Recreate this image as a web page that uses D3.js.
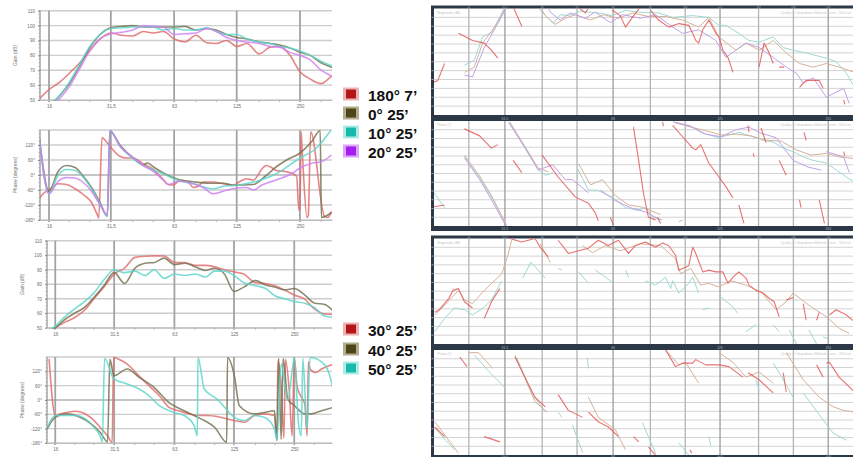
<!DOCTYPE html>
<html>
<head>
<meta charset="utf-8">
<script src="https://cdn.jsdelivr.net/npm/d3@7"></script>
<style>
  body { margin: 0; background: #fff; }
  svg { display: block; font-family: "Liberation Sans", Arial, sans-serif; }
</style>
</head>
<body>
<script>
// ---------- shared axes / labels ----------
const FREQS = [14, 16, 18, 20, 22.4, 25, 28, 31.5, 35.5, 40, 45, 50, 56, 63, 71, 80, 90, 100, 112, 125, 140, 160, 180, 200, 224, 250, 280, 315, 355, 400];
const FREQ_LABELS = [16, 31.5, 63, 125, 250];
const FREQ_MINOR = [20, 25, 40, 50, 80, 100, 160, 200, 315];
const GAIN_TICKS = [50, 60, 70, 80, 90, 100, 110];
const PHASE_TICKS = [-180, -120, -60, 0, 60, 120];
const GRID_3RD = [25, 31.5, 40, 50, 63, 80, 100, 125, 160, 200, 250];
const LEGEND_A = ['180° 7’', '0° 25’', '10° 25’', '20° 25’'];
const LEGEND_B = ['30° 25’', '40° 25’', '50° 25’'];

// ---------- left, top group: gain (dB) on FREQS ----------
const gainA180 = [49, 57, 62, 68, 75, 83, 91, 95, 93.5, 93, 96, 95, 96, 91, 89, 93.5, 88.5, 88, 90, 86, 88, 81, 85.5, 86, 80, 69, 64, 61, 66, 68];
const gainA0   = [40, 46, 53, 61, 73, 85, 94, 98.5, 99.5, 100, 99, 99, 99, 99, 99.5, 97, 98, 97, 94, 92, 91, 89, 88, 87, 85, 82, 80, 75, 72, 70];
const gainA10  = [40, 46, 53, 62, 74, 86, 94, 98, 98.5, 99, 99.5, 99, 97, 98, 97, 97, 98.5, 96, 94, 94, 91, 89, 88, 86, 85, 83, 80, 76, 73, 71];
const gainA20  = [38, 44, 51, 59, 71, 83, 91, 94.5, 95.5, 97, 100, 99.5, 99, 94, 94.5, 95, 98, 96, 92, 90, 89, 88, 86, 85.5, 82, 80, 77, 70, 66, 64];

// ---------- left, top group: phase [Hz, degrees] ----------
const phaseA180 = [[14.4,-95],[15,-75],[16,-60],[17.7,-35],[19.4,-38],[21.3,-55],[23.3,-78],[25.5,-110],[27.2,-160],[27.6,-172],[28.6,150],[29.5,140],[31.2,115],[34.8,75],[37.4,68],[40.3,68],[44.9,45],[50.1,22],[55.9,-18],[59,-38],[62.4,-40],[66,-25],[69.6,-22],[74,-30],[77.7,-50],[82,-45],[86.6,-28],[96.7,-28],[107.8,-35],[120,-42],[130,-25],[139,-15],[150,-20],[155,-10],[165,25],[173,38],[183,30],[193,18],[216,13],[241,-5],[247,-140],[250,-140],[253,173],[256,100],[270,-170],[274,-160],[281,173],[327,-165],[340,-170],[353,-145]];
const phaseA0 = [[14.4,150],[16,-65],[17.7,15],[19.4,38],[21.3,30],[23.3,-5],[25.5,-50],[28,-110],[30.3,-165],[31.2,175],[34.8,120],[40.3,67],[44.9,40],[47,48],[50.1,33],[55.9,8],[66,-18],[77.7,-27],[92,-33],[107.8,-33],[120,-40],[150,-38],[170,-7],[193,33],[216,60],[249,87],[284,133],[312,178],[316,-170],[353,-150]];
const phaseA10 = [[14.4,145],[16,-75],[17.7,0],[19.4,22],[21.3,18],[23.3,-10],[25.5,-55],[28,-115],[30.3,-165],[31.2,178],[34.8,115],[40.3,65],[44.9,38],[50.1,20],[55.9,5],[66,-22],[77.7,-35],[96.7,-55],[107.8,-45],[120,-42],[155,-25],[193,5],[249,67],[299,107],[350,178]];
const phaseA20 = [[14.4,140],[16,-75],[17.7,-25],[19.4,-10],[21.3,-12],[23.3,-30],[25.5,-65],[28,-120],[30.3,-160],[31.2,178],[34.8,115],[40.3,70],[44.9,38],[50.1,15],[55.9,-20],[59,-38],[66,-25],[77.7,-35],[86.6,-50],[96.7,-75],[107.8,-65],[120,-55],[139,-50],[150,-60],[165,-40],[193,-20],[230,7],[249,27],[284,47],[316,53],[353,80]];

// ---------- left, bottom group ----------
const gainB30 = [45, 50, 54, 57, 62, 70, 78, 87, 91, 98.5, 99.3, 99.5, 99.5, 95, 95, 93, 93, 92, 90, 88.5, 87, 81, 80.5, 79, 76, 72.5, 70, 63, 59.5, 59];
const gainB40 = [46, 50, 56, 60, 64, 71, 79, 88, 80.5, 91, 94.5, 95, 98, 93.5, 94.5, 92, 89.5, 91, 87, 75, 78, 82.5, 79.5, 78, 76, 77, 73, 67, 66, 60];
const gainB50 = [47, 51, 58, 63, 68, 74, 83, 90, 88, 89, 86, 90, 84, 87, 86, 87, 85, 89, 89, 86, 81, 79, 77, 72, 70, 68, 67, 64, 58, 57];

const phaseB30 = [[14.9,172],[16,-65],[17,-58],[20.3,-47],[24,-73],[26.8,-114],[29.2,-150],[30.8,-177],[31.3,178],[34.2,165],[36.6,150],[42,100],[47,60],[53,18],[59,-30],[66,-45],[75,-58],[82.2,-65],[92,-65],[107,-72],[125.5,-86],[141,-93],[158,-65],[177,-58],[199,-65],[205,-165],[207,165],[215,60],[222,-160],[226,170],[236,40],[244,-150],[250,175],[258,60],[268,20],[282,-15],[290,-150],[294,160],[300,130],[320,115],[342,130],[391,150]];
const phaseB40 = [[14.6,-120],[16,-72],[18.2,-58],[22.9,-86],[26.8,-135],[29.2,-175],[30,170],[31.4,102],[36.6,130],[42,95],[49.8,53],[59,-10],[70.5,-45],[79,-65],[89,-86],[100,-114],[115,-177],[116,178],[125.5,102],[133,-24],[158,-58],[177,-52],[199,-45],[205,-170],[209,175],[215,-165],[220,175],[232,4],[251,-24],[282,-58],[304,-58],[342,-45],[391,-31]];
const phaseB50 = [[14.6,-114],[16,-65],[20.3,-65],[25,-114],[26.8,-150],[27.5,-175],[28.2,175],[31.4,88],[36.6,67],[42,46],[47,18],[53,-24],[62.8,-52],[70.5,-65],[79,-107],[82,-150],[82.6,178],[88.8,46],[103,4],[125.5,-72],[141,-86],[158,-65],[177,-72],[199,-120],[205,-165],[215,150],[232,0],[251,178],[262,-90],[271,-150],[276,175],[290,-120],[300,178],[342,160],[370,120],[391,46]];

// ---------- right screenshots: [Hz, grid units], null = gap ----------
const magTopTeal = [[24.3,5.6],[25.9,6.2],[27.3,8.8],[28.9,9.3],[30.9,11.5],[31.9,12.8],null,[38.5,12.4],[39.5,11.8],[43,10.3],[44.9,11.3],[47.3,11.2],[51.1,11.7],[57.3,11.5],[62.7,11.2],[68.2,11.8],[73.8,11.6],[84.3,11.5],[92.3,11],[104.9,11.2],[116.3,11],[124.1,10.1],[129.8,10.1],[141,9.2],[150.5,8.4],[160.5,8.2],[175.7,8.8],[187.4,7.6],[199.6,7.3],[217,7],[247,6.4],[263,6],[281,4.7],[296,3.1]];
const magTopTan = [[24.3,4.8],[25.9,5.4],[27.3,8.1],[29.5,9.9],[31.1,11.5],[32.1,12.7],null,[39,12.6],[40.8,11.2],[43.5,10.2],[46.4,10.9],[49.5,11.3],[54.5,10.7],[59.2,11.3],[65.2,10.9],[71.3,11.5],[79,11.1],[88.2,11.1],[98.4,10.7],[109,9.9],[116.3,11],[124.1,8.8],[138.4,7.3],[147.6,8.1],[160.5,7.3],[175.7,8.4],[191,7],[208,5.8],[227,5.4],[247,5.8],[268,5.4],[296,4.8]];
const magTopPurple = [[24.3,4.5],[25.6,4.3],[27.6,7.6],[30.1,10.3],[31.5,11.8],[32.1,12.7],null,[40.8,12.6],[42.1,11.6],[44.9,10.7],[47.9,11.5],[52.7,10.9],[56.2,11.6],[61.9,10.4],[66.9,11.3],[75.1,10.9],[82.7,11.3],[92.3,9.9],[98.4,9.2],[109,9.6],[121.7,8.4],[129.8,6.5],[138.4,7.3],[147.6,8.1],[160.5,7.6],[175.7,6.5],[191,5.4],[204,4.7],[213,3.6],[227,4.2],[247,2],[276,3],[286,1.3]];
const magTopRed = [[20,3.7],[20.5,3.9],[21.4,5.8],null,[23.4,9.2],[25.6,8.4],[27.6,8.1],[28.9,7.3],[30.1,6.4],null,[33.2,12.2],[35.1,10],null,[49.5,12.4],[52.7,11.5],[54.5,12.4],null,[62.7,11.8],[66,11.2],[68.2,9.9],[71.3,11],[75.1,12.2],null,[80.1,11.8],[84.3,10.7],[90,9.9],[96,10.3],[102.3,10.1],[104.9,9.2],[107,8.4],[109,8.1],[111.9,9.6],[116.3,10.7],[121.7,9.2],[124.1,8.8],[127.3,7.3],[131.5,6.5],[135.8,4.8],null,[160.5,5.4],[165.8,8.1],[171.2,7],[175.7,5.8],null,[182.6,5.4],[188.5,5.4],null,[208,3.1],[217,3.9],[236,3.9],[242,3],null,[276,1.7],[278,1.2]];

const phsTopRed = [[24.3,11.1],[26.8,10.3],[28.9,8.9],[30.1,9.3],null,[33.2,7.5],[35.1,6.1],null,[40,8.1],[44.3,5.6],[49.5,3.3],[53.8,2.6],[56.2,1.5],[57.3,0.6],null,[61.9,1],[63.1,0.1],null,[71.8,11.3],[74.2,7.5],[76.5,3.8],[79,1],[82.7,0.7],null,[83.7,1],[85.4,0.3],null,[86.5,11.9],[87,11.4],null,[92.3,11.5],[98.4,10.2],[104.9,8.9],[107,8.7],[110.5,9.3],[116.3,7.2],[124.1,5.6],[129.8,4.5],[135.8,3.2],null,[141,2.4],[145.7,0.3],null,[149.6,11.5],[150.5,10.7],null,[154.5,8.3],[155.5,7.9],null,[162.6,11.2],[167.9,9.5],null,[182.6,7.5],[191,5.8],null,[208,3],[210,2.1],null,[214,10.7],[217,9.8],null,[236,3],[244,0.3],null,[276,8.5],[278,8],null,[20,2.2],[21.4,2.4]];
const phsTopTeal = [[20,3.8],[21.4,2.1],null,[24.3,7.9],[26.8,5.5],[28.9,3.3],[31.9,0.1],null,[32.3,11.9],[35.8,8.9],[39,6.4],[40.8,5.8],[42.8,6.1],null,[50.1,6.6],[53.8,4.1],[56.9,4.1],[62.7,3.3],[68.2,2.1],[73.8,1.8],[77.5,2.1],[81.1,1],[86.5,0.7],null,[92.3,11.9],[102.3,11.5],[111.9,10.6],[124.1,10.1],[132.3,10.4],[141,10.7],[154.5,10.2],[164.7,9.8],[175.7,9.6],[187.4,8.9],[199.6,8.5],[213,7.9],[227,7.5],[247,7.2],[263,6.4],[281,5.6],[296,5]];
const phsTopTan = [[24.3,8.1],[26.8,5.7],[28.9,3.5],[31.7,0.2],null,[32.5,11.9],[35.8,9.1],[39,6.6],[41.6,6.2],null,[50.5,7.1],[54.5,4.7],[58.9,5.3],[63.9,3.5],[69.5,2.4],[75.1,2.2],[85.4,1.3],null,[96,0.5],[98.4,0.7],null,[94,11.8],[103.6,11.3],[114.1,10.9],[125.7,10.4],[138.4,10.5],[152.5,10.3],[167.9,9.8],[185,9.7],[204,8.7],[224,8.1],[247,8.3],[268,7.9],[296,7.7]];
const phsTopPurple = [[24.3,7.8],[26.8,5.3],[28.9,3],[31.7,0],null,[32.3,11.8],[35.8,9],[39,6.4],[42.8,7],[46.4,5.3],[48.6,5.3],[53.8,3.8],null,[58.1,4.1],[63.9,2.9],[70.4,2.1],[77.5,1.6],[85.4,0.7],null,[92.9,11.9],[103.6,11.4],[114.1,10.5],[125.7,10.2],[138.4,11],[150.5,11.3],[162.6,10.6],[179.1,10.1],[199.6,7.5],[221,6.7],[239,6.4],null,[247,8.5],[276,7.9],[286,6.1]];

const magBotRed = [[20.1,3.6],[20.7,3.9],[22,5.2],[22.6,6.1],[23.4,6.3],[24.3,4.8],[25.6,4.1],null,[27.6,2.9],[28.9,4.8],[30.5,6.3],null,[32.5,12],[35.1,11.6],[38.2,12],[39.5,11],[41.6,9.9],null,[44.3,11.8],[47.3,10.3],[50.5,10.6],[53.8,10.9],[57.3,11.8],[61.1,11.2],[65.2,11.8],[69.5,10.3],[72.7,11.2],[77.5,11.6],[82.7,11],[86.5,11.5],[89.9,11.2],[94,10.1],[95.9,8.4],[102.3,8.9],[104.9,11],[107,10.3],[111.9,8.2],[116.3,8.4],[121.7,8.2],[127.3,8.2],[131.5,6.9],[135.8,7.6],[141,8.2],[147.6,7.5],[150.5,6.7],[157.4,6.1],[164.7,5.8],[171.2,5.2],[176.8,4.8],[182.6,3.1],null,[191,5],[199.6,5.3],null,[213,4.6],[217,2.7],null,[232,2.7],[236,3.6],null,[252,3.3],[263,3.9],[281,3.3],[296,2.5]];
const magBotTan = [[20.1,3.3],[21.4,4.4],[23.4,6.1],[24.3,5],[25.6,4.6],[27.6,6.1],[30.9,8],[32.1,10.1],[32.9,11.8],null,[39.5,11.4],[42.1,9.3],null,[51.8,11.2],[55.2,10.4],[60,11.2],[66,10.6],[75.1,11.4],[85.4,11.2],[94,9.7],[97.1,8],[103.6,8.6],[110.5,6.7],[116.3,6.9],[124.1,6.5],[134,7.2],[147.6,6.7],[162.6,5.9],[179.1,3.9],[191,4.8],[199.6,5.8],[221,4.4],[247,3.1],[268,1.8],[286,1.2]];
const magBotTeal = [[20.1,1.4],[21.4,2.9],[22.8,4.1],[24.3,3.9],[25.6,3.3],[27.4,4.1],[28.9,5],[30.9,7.2],null,[35.3,7.5],[37.2,9.3],[39,8.4],[40.8,7.5],null,[44.3,8.6],[45.4,8.4],null,[50.5,8.2],[53.8,6.9],null,[56.2,8.4],[60,7.6],[62.7,7],null,[68.2,8.4],[69.5,7.6],null,[77.5,7.2],[82.7,6.7],[88.2,7.6],[91.1,6.3],[92.3,7.2],[96,5.8],[102.3,6.9],[104.9,7.6],[109,5.8],null,[111.9,3.9],[116.3,4.1],null,[124.1,5.5],[132.3,4.6],[135.8,4.2],[140,3.5],null,[147.6,1.4],[157.4,2.2],null,[175.7,2.2],[182.6,1.4],null,[195,1.6],[204,0],null,[221,1.6],[232,0],null,[242,0.8],[252,0.5]];

const phsBotRed = [[20.1,3.2],[21.4,2.1],null,[23.6,11.2],[24.7,10.1],null,[27.6,2.1],[30.5,1.5],null,[33.6,11.2],[35.8,8.9],[38.2,6.6],[40.8,5.5],null,[44.3,6.9],[47.3,5.1],[51.8,4.3],null,[53.8,4.9],[57.3,3.8],[61.1,3.2],[65.2,2.1],null,[71.8,2.1],[74.2,1.5],null,[79,0.9],[82.7,0],null,[103,0.6],[104.3,0.2],null,[88.2,12],[94,10.1],[98.4,10.5],[104.9,10.5],[107,10.9],[114.1,10.3],[124.1,10.3],[132.3,10.1],[138.4,9.5],[144.8,8.9],null,[149.6,9.4],[160.5,8.6],[175.7,7.1],null,[187.4,9.4],[191,7.2],null,[232,10.3],[242,8.9],null,[247,10.5],[252,10.6],[268,8.9],[296,7.2]];
const phsBotTan = [[20.1,3.8],[23.4,0.2],null,[24.9,11.7],[26.6,11.7],[29.1,9.9],null,[33.6,11.4],[38.2,6.1],[41.3,4.9],null,[53.8,6.6],[57.3,4.3],[63.9,2.9],[68.2,0.6],null,[88.2,12],[96,10.3],[100.3,10.6],[109,8.2],null,[124.1,11.7],[135.8,10.6],[147.6,8.9],[160.5,9.5],[175.7,8.2],null,[191,11.7],[213,8.6],[236,6.6],[258,5.5],[276,5.1],[296,4.9]];
const phsBotTeal = [[20.1,3.1],[22.8,0.6],null,[25.9,11.4],[28.5,9.5],[31.5,7.7],null,[34,11.1],[37.6,6.9],[40.8,4.9],null,[44.3,4.9],[45.4,4.3],null,[48.6,3.4],[51.8,0.3],null,[53.4,11.1],[53.8,9.9],null,[76,3.7],[82.7,0.2],null,[96,1.4],[102.3,0],null,[116.3,2.1],[117.8,1.1],null,[157.4,8.6],[160.5,7.4],null,[175.7,10.5],[182.6,9.4],[199.6,6.6],null,[213,7.1],[236,4.6],[258,2.5],[281,1.7]];

// ---------- colours ----------
const C_RED = '#e06a6a', C_OLIVE = '#75704f', C_TEAL = '#5dd5ca', C_PURPLE = '#d07ef3';
const R_RED = '#e55858', R_TAN = '#d6b29a', R_TEAL = '#9ed9d0', R_PURPLE = '#c4a0e6';
const SW_A = [['#b51519', '#ebb2b2'], ['#4b4519', '#b3ad8f'], ['#19b8ad', '#b0ebe5'], ['#a41ef0', '#dea4f8']];
const SW_B = [['#b51519', '#ebb2b2'], ['#4b4519', '#b3ad8f'], ['#19b8ad', '#b0ebe5']];

const svg = d3.select('body').append('svg').attr('width', 853).attr('height', 457);
let clipN = 0;

function pairs(arr) {
    return FREQS.map(function (f, i) { return [f, arr[i]]; });
}

// ---------- left panels ----------
function drawLeft(box, xDom, yDom, grid, labels, fmt, title, isPhase, series) {
    const x = d3.scaleLog().domain(xDom).range([box.l, box.r]);
    const y = d3.scaleLinear().domain(yDom).range([box.b, box.t]);
    const g = svg.append('g');
    const id = 'clip' + (clipN++);
    g.append('clipPath').attr('id', id).append('rect')
        .attr('x', box.l).attr('y', box.t - 1)
        .attr('width', box.r - box.l).attr('height', box.b - box.t + 2);

    // horizontal grid
    g.selectAll(null).data(grid).enter().append('line')
        .attr('x1', box.l).attr('x2', box.r)
        .attr('y1', function (d) { return y(d); }).attr('y2', function (d) { return y(d); })
        .attr('stroke', function (d) { return isPhase && d === 0 ? '#8c8c8c' : '#cdcdcd'; })
        .attr('stroke-width', function (d) { return isPhase && d === 0 ? 1.2 : 1.4; });

    // vertical grid at labelled frequencies
    g.selectAll(null).data(FREQ_LABELS).enter().append('line')
        .attr('x1', function (d) { return x(d); }).attr('x2', function (d) { return x(d); })
        .attr('y1', box.t).attr('y2', box.b + 2)
        .attr('stroke', '#a3a3a3').attr('stroke-width', 1.8);

    // minor ticks on the bottom
    g.selectAll(null).data(FREQ_MINOR.filter(function (f) { return f > xDom[0] && f < xDom[1]; })).enter().append('line')
        .attr('x1', function (d) { return x(d); }).attr('x2', function (d) { return x(d); })
        .attr('y1', box.b).attr('y2', box.b + 2)
        .attr('stroke', '#999').attr('stroke-width', 0.8);

    // left axis
    const ay = g.append('g').attr('transform', 'translate(' + box.l + ',0)')
        .call(d3.axisLeft(y).tickValues(labels).tickSize(2).tickPadding(3).tickFormat(fmt));
    ay.select('.domain').attr('stroke', '#7a7a7a').attr('d', 'M0,' + box.t + 'V' + box.b);
    ay.selectAll('line').attr('stroke', '#888');
    ay.selectAll('text').attr('font-size', 4.6).attr('fill', '#6e6e6e');

    // minor ticks on the left
    const minor = d3.range(yDom[0], yDom[1] + 0.01, (yDom[1] - yDom[0]) / 24);
    g.selectAll(null).data(minor).enter().append('line')
        .attr('x1', box.l - 1.5).attr('x2', box.l)
        .attr('y1', function (d) { return y(d); }).attr('y2', function (d) { return y(d); })
        .attr('stroke', '#999').attr('stroke-width', 0.6);

    // bottom labels
    const ax = g.append('g').attr('transform', 'translate(0,' + box.b + ')')
        .call(d3.axisBottom(x).tickValues(FREQ_LABELS).tickSize(0).tickPadding(5).tickFormat(function (d) { return d; }));
    ax.select('.domain').attr('stroke', '#bdbdbd');
    ax.selectAll('text').attr('font-size', 4.6).attr('fill', '#6e6e6e');

    g.append('text')
        .attr('transform', 'translate(' + (box.l - 23) + ',' + ((box.t + box.b) / 2) + ') rotate(-90)')
        .attr('text-anchor', 'middle').attr('font-size', 5).attr('fill', '#777')
        .text(title);

    const line = d3.line()
        .x(function (d) { return x(d[0]); })
        .y(function (d) { return y(d[1]); })
        .curve(d3.curveMonotoneX);

    g.append('g').attr('clip-path', 'url(#' + id + ')')
        .selectAll('path').data(series).enter().append('path')
        .attr('d', function (s) { return line(s.data); })
        .attr('fill', 'none')
        .attr('stroke', function (s) { return s.color; })
        .attr('stroke-width', 1.6)
        .attr('stroke-opacity', 0.82)
        .attr('stroke-linejoin', 'round');
}

const gainFmt = function (d) { return d; };
const phaseFmt = function (d) { return d + '°'; };

drawLeft({ l: 40, r: 332, t: 10.7, b: 100 }, [14.5, 355], [50, 110], GAIN_TICKS, GAIN_TICKS, gainFmt, 'Gain (dB)', false, [
    { data: pairs(gainA180), color: C_RED },
    { data: pairs(gainA0), color: C_OLIVE },
    { data: pairs(gainA10), color: C_TEAL },
    { data: pairs(gainA20), color: C_PURPLE }
]);
drawLeft({ l: 40, r: 332, t: 130, b: 220 }, [14.5, 355], [-180, 180], PHASE_TICKS.concat([180]), PHASE_TICKS, phaseFmt, 'Phase (degrees)', true, [
    { data: phaseA180, color: C_RED },
    { data: phaseA0, color: C_OLIVE },
    { data: phaseA10, color: C_TEAL },
    { data: phaseA20, color: C_PURPLE }
]);
drawLeft({ l: 47, r: 332, t: 240.7, b: 327.7 }, [14.55, 386], [50, 110], GAIN_TICKS, GAIN_TICKS, gainFmt, 'Gain (dB)', false, [
    { data: pairs(gainB30), color: C_RED },
    { data: pairs(gainB40), color: C_OLIVE },
    { data: pairs(gainB50), color: C_TEAL }
]);
drawLeft({ l: 47, r: 332, t: 357, b: 443 }, [14.55, 386], [-180, 180], PHASE_TICKS.concat([180]), PHASE_TICKS, phaseFmt, 'Phase (degrees)', true, [
    { data: phaseB30, color: C_RED },
    { data: phaseB40, color: C_OLIVE },
    { data: phaseB50, color: C_TEAL }
]);

// ---------- legends ----------
function drawLegend(names, swatches, baselines) {
    const g = svg.append('g');
    const row = g.selectAll(null).data(names).enter().append('g');
    row.append('rect')
        .attr('x', 343).attr('y', function (d, i) { return baselines[i] - 13.5; })
        .attr('width', 16).attr('height', 13)
        .attr('fill', function (d, i) { return swatches[i][1]; });
    row.append('rect')
        .attr('x', 346).attr('y', function (d, i) { return baselines[i] - 11.5; })
        .attr('width', 10).attr('height', 9)
        .attr('fill', function (d, i) { return swatches[i][0]; });
    row.append('text')
        .attr('x', 368).attr('y', function (d, i) { return baselines[i]; })
        .attr('font-size', 15.5).attr('font-weight', 'bold').attr('fill', '#111')
        .text(function (d) { return d; });
}
drawLegend(LEGEND_A, SW_A, [101, 120, 139, 158]);
drawLegend(LEGEND_B, SW_B, [336, 356, 375]);

// ---------- right screenshots ----------
const DARK = '#2c3845';
svg.append('rect').attr('x', 431).attr('y', 5.5).attr('width', 422).attr('height', 225.5).attr('fill', DARK);
svg.append('rect').attr('x', 431).attr('y', 235.5).attr('width', 422).attr('height', 221.5).attr('fill', DARK);

function drawRight(top, bottom, title, series, bandY) {
    const x = d3.scaleLog().domain([20, 293]).range([434, 853]);
    const y = d3.scaleLinear().domain([0, 12]).range([bottom, top]);
    const g = svg.append('g');
    const id = 'clip' + (clipN++);
    g.append('clipPath').attr('id', id).append('rect')
        .attr('x', 434).attr('y', top).attr('width', 419).attr('height', bottom - top);
    g.append('rect').attr('x', 434).attr('y', top).attr('width', 419).attr('height', bottom - top).attr('fill', '#fff');

    g.selectAll(null).data(d3.range(1, 12)).enter().append('line')
        .attr('x1', 434).attr('x2', 853)
        .attr('y1', function (d) { return y(d); }).attr('y2', function (d) { return y(d); })
        .attr('stroke', '#d3d3d3').attr('stroke-width', 1);
    g.selectAll(null).data(d3.range(1, 12)).enter().append('line')
        .attr('x1', 431.5).attr('x2', 433.5)
        .attr('y1', function (d) { return y(d); }).attr('y2', function (d) { return y(d); })
        .attr('stroke', '#cfd6dc').attr('stroke-width', 0.7);

    g.selectAll(null).data(GRID_3RD).enter().append('line')
        .attr('x1', function (d) { return x(d); }).attr('x2', function (d) { return x(d); })
        .attr('y1', top).attr('y2', bottom)
        .attr('stroke', function (d) { return FREQ_LABELS.indexOf(d) >= 0 ? '#9c9c9c' : '#b4b4b4'; })
        .attr('stroke-width', 1.3);

    g.append('text').attr('x', 437).attr('y', top + 5).attr('font-size', 3.4).attr('fill', '#c4c4c4').text(title);
    g.append('text').attr('x', 851).attr('y', top + 5).attr('text-anchor', 'end').attr('font-size', 3.4).attr('fill', '#c4c4c4')
        .text('Quality 0 / Impedance Method Curve - 1/24 oct');

    // x labels in the dark band below
    g.selectAll(null).data(FREQ_LABELS.filter(function (f) { return f > 20; })).enter().append('text')
        .attr('x', function (d) { return x(d); }).attr('y', bandY)
        .attr('text-anchor', 'middle').attr('font-size', 3.4).attr('fill', '#aeb8c2')
        .text(function (d) { return d; });

    const line = d3.line()
        .defined(function (d) { return d !== null; })
        .x(function (d) { return x(d[0]); })
        .y(function (d) { return y(d[1]); });

    g.append('g').attr('clip-path', 'url(#' + id + ')')
        .selectAll('path').data(series).enter().append('path')
        .attr('d', function (s) { return line(s.data); })
        .attr('fill', 'none')
        .attr('stroke', function (s) { return s.color; })
        .attr('stroke-width', function (s) { return s.w; })
        .attr('stroke-opacity', function (s) { return s.o; })
        .attr('stroke-linejoin', 'round');
}

drawRight(8.5, 115, 'Magnitude (dB)', [
    { data: magTopTeal, color: R_TEAL, w: 1, o: 1 },
    { data: magTopTan, color: R_TAN, w: 1, o: 1 },
    { data: magTopPurple, color: R_PURPLE, w: 1, o: 1 },
    { data: magTopRed, color: R_RED, w: 1.1, o: 0.85 }
], 119.5);
drawRight(121, 226, 'Phase (°)', [
    { data: phsTopTeal, color: R_TEAL, w: 1, o: 1 },
    { data: phsTopTan, color: R_TAN, w: 1, o: 1 },
    { data: phsTopPurple, color: R_PURPLE, w: 1, o: 1 },
    { data: phsTopRed, color: R_RED, w: 1.1, o: 0.85 }
], 229.8);
drawRight(238.5, 344, 'Magnitude (dB)', [
    { data: magBotTeal, color: R_TEAL, w: 1, o: 1 },
    { data: magBotTan, color: R_TAN, w: 1, o: 1 },
    { data: magBotRed, color: R_RED, w: 1.1, o: 0.85 }
], 348.5);
drawRight(350, 455, 'Phase (°)', [
    { data: phsBotTeal, color: R_TEAL, w: 1, o: 1 },
    { data: phsBotTan, color: R_TAN, w: 1, o: 1 },
    { data: phsBotRed, color: R_RED, w: 1.1, o: 0.85 }
], 457);

// tiny labels in the top strips
[7.8, 237.8].forEach(function (yy) {
    const x = d3.scaleLog().domain([20, 293]).range([434, 853]);
    svg.append('g').selectAll(null).data(GRID_3RD).enter().append('text')
        .attr('x', function (d) { return x(d); }).attr('y', yy)
        .attr('text-anchor', 'middle').attr('font-size', 2.6).attr('fill', '#9aa5b0')
        .text(function (d) { return d; });
});
</script>
</body>
</html>
